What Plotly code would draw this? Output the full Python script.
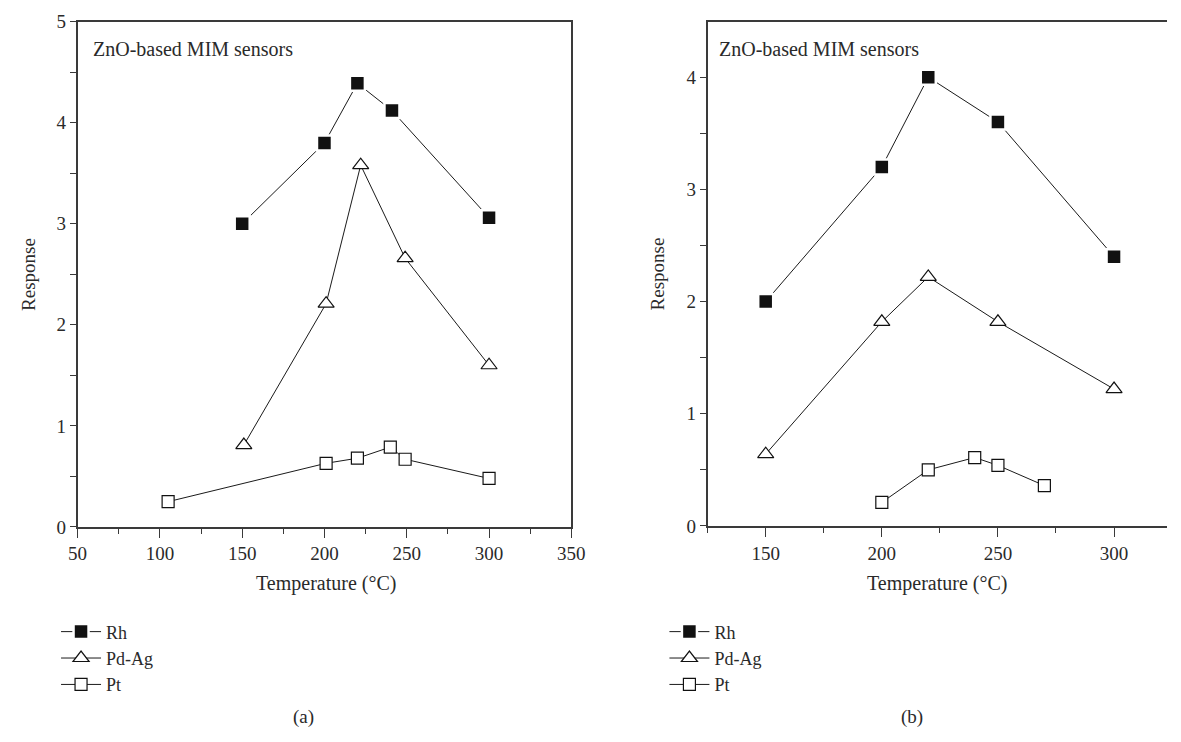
import plotly.graph_objects as go

# ---- data (a) ----
a_rh_x = [150, 200, 220, 241, 300]
a_rh_y = [3.0, 3.8, 4.39, 4.12, 3.06]
a_pd_x = [151, 201, 222, 249, 300]
a_pd_y = [0.81, 2.21, 3.58, 2.66, 1.6]
a_pt_x = [105, 201, 220, 240, 249, 300]
a_pt_y = [0.25, 0.63, 0.68, 0.79, 0.67, 0.48]

# ---- data (b) ----
b_rh_x = [150, 200, 220, 250, 300]
b_rh_y = [2.0, 3.2, 4.0, 3.6, 2.4]
b_pd_x = [150, 200, 220, 250, 300]
b_pd_y = [0.64, 1.82, 2.22, 1.82, 1.22]
b_pt_x = [200, 220, 240, 250, 270]
b_pt_y = [0.21, 0.5, 0.61, 0.54, 0.36]

names = ["Rh", "Pd-Ag", "Pt"]
W, H = 1181, 742
FONT = "Liberation Serif"
LC = "#1a1a1a"
TXT = "#2a2a2a"

fig = go.Figure()

styles = [
    dict(symbol="square", size=15, color="#111111", line=dict(color="white", width=2.5)),
    dict(symbol="triangle-up", size=14, color="white", line=dict(color="#111111", width=1.2)),
    dict(symbol="square", size=12, color="white", line=dict(color="#111111", width=1.2)),
]

a_sets = [(a_rh_x, a_rh_y), (a_pd_x, a_pd_y), (a_pt_x, a_pt_y)]
b_sets = [(b_rh_x, b_rh_y), (b_pd_x, b_pd_y), (b_pt_x, b_pt_y)]

for i, (xs, ys) in enumerate(a_sets):
    fig.add_trace(go.Scatter(x=xs, y=ys, mode="lines+markers", name=names[i],
                             line=dict(color=LC, width=1),
                             marker=styles[i],
                             xaxis="x", yaxis="y", legend="legend", cliponaxis=False))
for i, (xs, ys) in enumerate(b_sets):
    fig.add_trace(go.Scatter(x=xs, y=ys, mode="lines+markers", name=names[i],
                             line=dict(color=LC, width=1),
                             marker=styles[i],
                             xaxis="x2", yaxis="y2", legend="legend2", cliponaxis=False))

AXC = "#3a3a3a"
ax_common = dict(showline=True, linecolor=AXC, linewidth=1.5, showgrid=False,
                 zeroline=False, ticks="outside", tickcolor=AXC, tickwidth=1.3,
                 tickfont=dict(family=FONT, size=19, color=TXT))

y0a, y1a = 1 - 532 / H, 1 - 12 / H
y0b, y1b = 1 - 531 / H, 1 - 12 / H

leg_common = dict(xanchor="left", yanchor="top", bgcolor="rgba(0,0,0,0)",
                  font=dict(family=FONT, size=18, color=TXT),
                  tracegroupgap=0, itemwidth=40)

fig.update_layout(
    width=W, height=H, margin=dict(l=0, r=0, t=0, b=0),
    paper_bgcolor="white", plot_bgcolor="white",
    font=dict(family=FONT, size=19, color=TXT),
    xaxis=dict(domain=[69 / W, 573 / W], range=[50, 350], dtick=50, tick0=50,
               ticklen=9, mirror=True, anchor="y",
               minor=dict(dtick=25, ticklen=5, ticks="outside", tickcolor=AXC),
               **ax_common),
    yaxis=dict(domain=[y0a, y1a], range=[0, 5], dtick=1, ticklen=6, mirror=True,
               anchor="x",
               minor=dict(dtick=0.5, ticklen=6, ticks="outside", tickcolor=AXC),
               **ax_common),
    xaxis2=dict(domain=[712 / W, 1.0], range=[124.95, 322.8], dtick=50, tick0=50,
                ticklen=9, mirror=True, anchor="y2",
                minor=dict(dtick=25, ticklen=5, ticks="outside", tickcolor=AXC),
                **ax_common),
    yaxis2=dict(domain=[y0b, y1b], range=[0, 4.495], dtick=1, ticklen=6, mirror=False,
                anchor="x2",
                minor=dict(dtick=0.5, ticklen=6, ticks="outside", tickcolor=AXC),
                **ax_common),
    legend=dict(x=47 / W, y=1 - 621 / H, **leg_common),
    legend2=dict(x=668 / W, y=1 - 621 / H, **leg_common),
)

ann = [
    dict(text="ZnO-based MIM sensors", x=83 / W, y=1 - 40 / H, xanchor="left", yanchor="middle", size=20),
    dict(text="ZnO-based MIM sensors", x=722 / W, y=1 - 40 / H, xanchor="left", yanchor="middle", size=20),
    dict(text="Temperature (°C)", x=323 / W, y=1 - 590 / H, xanchor="center", yanchor="middle", size=20),
    dict(text="Temperature (°C)", x=946 / W, y=1 - 590 / H, xanchor="center", yanchor="middle", size=20),
    dict(text="Response", x=19 / W, y=(y0a + y1a) / 2, xanchor="center", yanchor="middle", textangle=-90, size=19),
    dict(text="Response", x=661 / W, y=(y0b + y1b) / 2, xanchor="center", yanchor="middle", textangle=-90, size=19),
    dict(text="(a)", x=300 / W, y=1 - 728 / H, xanchor="center", yanchor="middle", size=19),
    dict(text="(b)", x=921 / W, y=1 - 728 / H, xanchor="center", yanchor="middle", size=19),
]
for a in ann:
    s = a.pop("size")
    a.update(xref="paper", yref="paper", showarrow=False,
             font=dict(family=FONT, size=s, color=TXT))
    fig.add_annotation(**a)

fig.write_html("out.html")
